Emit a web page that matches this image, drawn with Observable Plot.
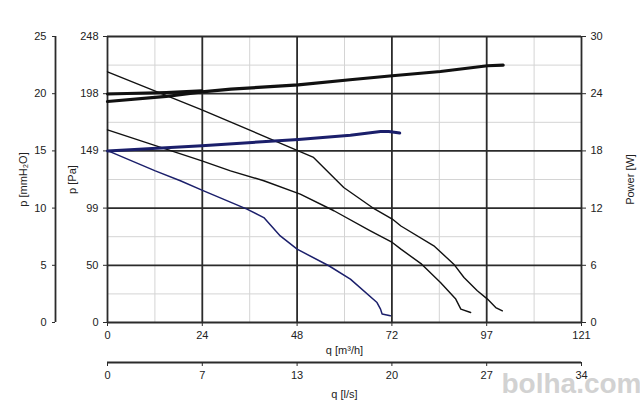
<!DOCTYPE html>
<html><head><meta charset="utf-8">
<script src="https://cdn.jsdelivr.net/npm/d3@7"></script>
<script src="https://cdn.jsdelivr.net/npm/@observablehq/plot@0.6"></script>
<style>body{margin:0;background:#fff}</style>
</head><body><div id="chart"></div>
<script>
// Axis ticks and labels
const qTicks = [0, 24.2, 48.4, 72.6, 96.8, 121];           // m³/h
const qLabels = ["0", "24", "48", "72", "97", "121"];
const qMinor = [12.1, 36.3, 60.5, 84.7, 108.9];
const lsTicks = [0, 6.72, 13.44, 20.16, 26.88, 33.6];       // l/s
const lsLabels = ["0", "7", "13", "20", "27", "34"];
const paTicks = [0, 49.6, 99.2, 148.8, 198.4, 248];         // Pa
const paLabels = ["0", "50", "99", "149", "198", "248"];
const paMinor = [24.8, 74.4, 124, 173.6, 223.2];
const mmTicks = [0, 5, 10, 15, 20, 25];                     // mmH2O
const wTicks = [0, 6, 12, 18, 24, 30];                      // W

// Pressure curves (q in m³/h, p in Pa)
const pAq = [0, 24.1, 48.7, 52.6, 60.3, 67.6, 72.7, 74.9, 83.3, 88.4, 91, 94.4, 97, 99.1, 100.8];
const pAv = [217.4, 184.4, 148.9, 143.1, 117.1, 99.7, 89.7, 83.7, 66.5, 50.6, 39, 27.5, 20.3, 13, 10.1];
const pBq = [0, 24.1, 31.4, 39.9, 49.2, 57.8, 67.1, 72.7, 74.9, 80.2, 85, 88.9, 90.2, 92.7];
const pBv = [167.1, 140.2, 131.5, 122.9, 111.3, 96.9, 79.5, 69.4, 63.6, 50.6, 34.7, 20.3, 11.6, 8.7];
const pCq = [0, 12.2, 18.6, 24.1, 35.6, 39.9, 44.1, 48.4, 56.5, 62, 68.8, 69.7, 70.1, 72.2];
const pCv = [149, 131.5, 122.9, 114.8, 98.3, 91, 75.1, 63.6, 49.2, 37.6, 17.3, 11.6, 7.3, 5.8];

// Power curves (q in m³/h, power in W)
const wLowQ = [0, 15, 24.1, 31.5, 48.7, 61.9, 72.7, 85, 97, 101];
const wLowV = [23.18, 23.71, 24.2, 24.48, 24.93, 25.46, 25.88, 26.33, 26.93, 27.0];
const wUpQ = [0, 15, 24.1];
const wUpV = [23.96, 24.13, 24.3];
const wBlueQ = [0, 24.1, 48.7, 62, 69.7, 71.8, 74.6];
const wBlueV = [18.0, 18.55, 19.2, 19.65, 20.03, 20.03, 19.87];

const PA_PER_MM = 248 / 25, PA_PER_W = 248 / 30, M3H_PER_LS = 121 / 33.6;
const zip = (a, b) => a.map((q, i) => ({q, v: b[i]}));
const lab = (ticks, labels) => d => labels[ticks.findIndex(t => Math.abs(t - d) < 1e-6)];

const mmPos = mmTicks.map(m => m * PA_PER_MM);
const wPos = wTicks.map(w => w * PA_PER_W);
const lsPos = lsTicks.map(l => l * M3H_PER_LS);

const dark = "#2b2b2b", light = "#d4d4d4", navy = "#1b1f6b", ink = "#111";

const chart = Plot.plot({
  width: 640, height: 406,
  marginLeft: 107, marginRight: 59, marginTop: 36, marginBottom: 84,
  style: {fontFamily: "'Liberation Sans', Arial, sans-serif", fontSize: "11px", color: "#222", background: "#fff"},
  x: {domain: [0, 121]},
  y: {domain: [0, 248]},
  marks: [
    Plot.text(["bolha.com"], {x: 121, y: 0, dx: 60, dy: 62, textAnchor: "end", fontSize: 28, fontWeight: "bold", fill: "#d2d2d2"}),
    // grid
    Plot.ruleX(qMinor, {stroke: light, strokeWidth: 1}),
    Plot.ruleY(paMinor, {stroke: light, strokeWidth: 1}),
    Plot.ruleX(qTicks.slice(1, -1), {stroke: dark, strokeWidth: 1.8}),
    Plot.ruleY(paTicks.slice(1, -1), {stroke: dark, strokeWidth: 1.8}),
    Plot.ruleY([248], {stroke: dark, strokeWidth: 1.8}),
    Plot.ruleX([0, 121], {stroke: dark, strokeWidth: 1.8}),
    Plot.ruleY([0], {stroke: dark, strokeWidth: 1.8}),
    // extra axis lines
    Plot.ruleX([0], {dx: -52, stroke: dark, strokeWidth: 1.8}),
    Plot.ruleY([0], {x1: 0, x2: 121, dy: 40, stroke: dark, strokeWidth: 1.8}),
    // axes
    Plot.axisY(paTicks, {anchor: "left", tickSize: 4, tickFormat: lab(paTicks, paLabels), label: null, stroke: dark}),
    Plot.axisY(mmPos, {anchor: "left", dx: -52, tickSize: 3, tickFormat: lab(mmPos, mmTicks.map(String)), label: null, stroke: dark}),
    Plot.axisY(wPos, {anchor: "right", tickSize: 4, tickFormat: lab(wPos, wTicks.map(String)), label: null, stroke: dark}),
    Plot.axisX(qTicks, {anchor: "bottom", tickSize: 4, tickFormat: lab(qTicks, qLabels), label: null, stroke: dark}),
    Plot.axisX(lsPos, {anchor: "bottom", dy: 40, tickSize: 4, tickFormat: lab(lsPos, lsLabels), label: null, stroke: dark}),
    // axis titles
    Plot.text(["p [mmH₂O]"], {x: 0, y: 124, dx: -84, rotate: -90, fontSize: 11}),
    Plot.text(["p [Pa]"], {x: 0, y: 124, dx: -35, rotate: -90, fontSize: 11}),
    Plot.text(["Power [W]"], {x: 121, y: 124, dx: 49, rotate: -90, fontSize: 11}),
    Plot.text(["q [m³/h]"], {x: 60.5, y: 0, dy: 28, fontSize: 11}),
    Plot.text(["q [l/s]"], {x: 60.5, y: 0, dy: 72, fontSize: 11}),
    // curves
    Plot.line(zip(pAq, pAv), {x: "q", y: "v", stroke: ink, strokeWidth: 1.4}),
    Plot.line(zip(pBq, pBv), {x: "q", y: "v", stroke: ink, strokeWidth: 1.4}),
    Plot.line(zip(pCq, pCv), {x: "q", y: "v", stroke: navy, strokeWidth: 1.5}),
    Plot.line(zip(wUpQ, wUpV), {x: "q", y: d => d.v * PA_PER_W, stroke: ink, strokeWidth: 3}),
    Plot.line(zip(wLowQ, wLowV), {x: "q", y: d => d.v * PA_PER_W, stroke: ink, strokeWidth: 3.2}),
    Plot.line(zip(wBlueQ, wBlueV), {x: "q", y: d => d.v * PA_PER_W, stroke: navy, strokeWidth: 3})
  ]
});
document.getElementById("chart").appendChild(chart);
</script>
</body></html>
